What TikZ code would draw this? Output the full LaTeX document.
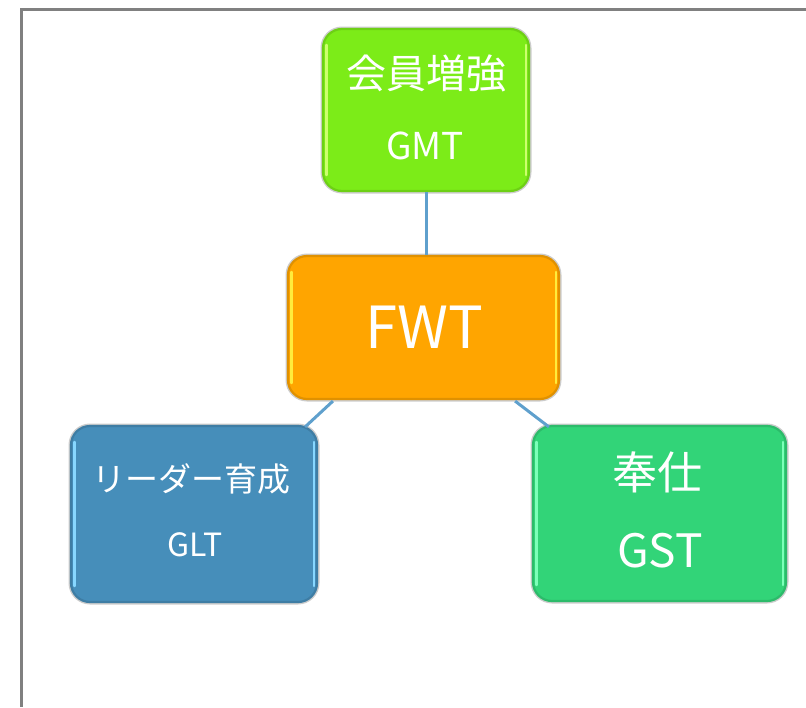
\documentclass[tikz,border=0pt]{standalone}
\usepackage{fontspec}
\setmainfont{Noto Sans CJK JP}
\usetikzlibrary{calc}
\definecolor{gmtc}{RGB}{124,236,24}
\definecolor{gmth}{RGB}{205,255,110}
\definecolor{fwtc}{RGB}{255,165,0}
\definecolor{fwth}{RGB}{255,236,60}
\definecolor{gltc}{RGB}{70,142,186}
\definecolor{glth}{RGB}{135,215,255}
\definecolor{gstc}{RGB}{50,212,120}
\definecolor{gsth}{RGB}{125,255,185}
\definecolor{linkc}{RGB}{95,160,205}
\definecolor{framec}{RGB}{128,128,128}
\tikzset{
  box/.style={rectangle, rounded corners=19pt, fill=#1, draw=#1!88!black,
    line width=2.2pt, inner sep=0pt,
    preaction={draw=black!20, line width=5pt}},
  hlside/.style={draw=#1, line width=2.2pt, line cap=round},
  lbl/.style={text=white, inner sep=0pt},
  link/.style={draw=linkc, line width=3pt},
  frameline/.style={draw=framec, line width=3pt}
}
\newcommand{\boxsides}[2]{%
  \draw[hlside=#2] ($(#1.north west)+(4.5,17)$) -- ($(#1.south west)+(4.5,-17)$);
  \draw[hlside=#2] ($(#1.north east)+(-4.5,17)$) -- ($(#1.south east)+(-4.5,-17)$);
}
\begin{document}
\begin{tikzpicture}[x=1pt,y=-1pt]
\useasboundingbox (0,0) rectangle (806,707);
\coordinate (ftl) at (21,9.5);
\coordinate (ftr) at (806,9.5);
\coordinate (fbl) at (21,707);
\draw[frameline] (ftr) -- (ftl) -- (fbl);
% boxes
\node[box=gmtc, minimum width=206pt, minimum height=162pt] (gmt) at (426,110) {};
\node[box=fwtc, minimum width=271pt, minimum height=143pt] (fwt) at (423.5,327.5) {};
\node[box=gltc, minimum width=246pt, minimum height=176pt] (glt) at (194,514) {};
\node[box=gstc, minimum width=253pt, minimum height=175pt] (gst) at (659.5,513.5) {};
\boxsides{gmt}{gmth}
\boxsides{fwt}{fwth}
\boxsides{glt}{glth}
\boxsides{gst}{gsth}
% connectors
\draw[link] (gmt.south) -- (gmt.south |- fwt.north);
\draw[link] ($(fwt.south west)+(46,1)$) -- ($(glt.north east)+(-13,2)$);
\draw[link] ($(fwt.south east)+(-45,1)$) -- ($(gst.north west)+(17,2)$);
% labels
\node[lbl, font=\fontsize{40}{40}\selectfont] (gmtjp) at (426,73) {会員増強};
\node[lbl, font=\fontsize{37}{37}\selectfont] (gmten) at (425,146) {GMT};
\node[lbl, font=\fontsize{58}{58}\selectfont] (fwten) at (424,327) {FWT};
\node[lbl, font=\fontsize{33}{33}\selectfont] (gltjp) at (191,479) {リーダー育成};
\node[lbl, font=\fontsize{32}{32}\selectfont] (glten) at (195,545) {GLT};
\node[lbl, font=\fontsize{45}{45}\selectfont] (gstjp) at (657,472) {奉仕};
\node[lbl, font=\fontsize{46}{46}\selectfont] (gsten) at (660,551) {GST};
\end{tikzpicture}
\end{document}
